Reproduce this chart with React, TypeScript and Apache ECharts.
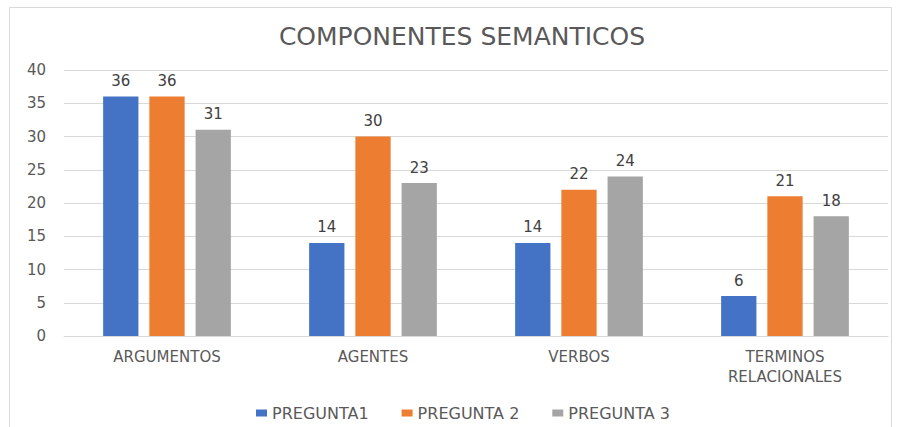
import React, { useEffect, useRef } from "react";
import * as echarts from "echarts";

const categories = ["ARGUMENTOS", "AGENTES", "VERBOS", "TERMINOS\nRELACIONALES"];
const pregunta1 = [36, 14, 14, 6];
const pregunta2 = [36, 30, 22, 21];
const pregunta3 = [31, 23, 24, 18];
const seriesNames = ["PREGUNTA1", "PREGUNTA 2", "PREGUNTA 3"];
const colors = ["#4472C4", "#ED7D31", "#A5A5A5"];

const FONT = "'DejaVu Sans', 'Open Sans', sans-serif";

export default function App() {
  const ref = useRef<HTMLDivElement>(null);
  useEffect(() => {
    if (!ref.current) return;
    const chart = echarts.init(ref.current, undefined, { renderer: "svg" });
    const data = [pregunta1, pregunta2, pregunta3];
    chart.setOption({
      animation: false,
      backgroundColor: "#ffffff",
      title: {
        text: "COMPONENTES SEMANTICOS",
        left: 457,
        textAlign: "center",
        top: 19,
        textStyle: { fontFamily: FONT, fontSize: 25, fontWeight: "normal", color: "#595959" },
      },
      graphic: [
        {
          type: "rect",
          shape: { x: 9.5, y: 7.5, width: 882, height: 440 },
          style: { fill: "none", stroke: "#d9d9d9", lineWidth: 1 },
          silent: true,
          z: -1,
        },
      ],
      legend: {
        top: 400,
        left: 251,
        itemWidth: 11,
        itemHeight: 7,
        itemGap: 33,
        icon: "rect",
        textStyle: { fontFamily: FONT, fontSize: 16, color: "#595959" },
        data: seriesNames,
      },
      grid: { left: 64, right: 12, top: 70, bottom: 91, containLabel: false },
      xAxis: {
        type: "category",
        data: categories,
        axisLine: { lineStyle: { color: "#d9d9d9" } },
        axisTick: { show: false },
        axisLabel: { fontFamily: FONT, fontSize: 15, color: "#595959", margin: 11, lineHeight: 20 },
      },
      yAxis: {
        type: "value",
        min: 0,
        max: 40,
        interval: 5,
        axisLine: { show: false },
        axisTick: { show: false },
        splitLine: { lineStyle: { color: "#d9d9d9" } },
        axisLabel: { fontFamily: FONT, fontSize: 15, color: "#595959", margin: 18, align: "right" },
      },
      series: seriesNames.map((name, i) => ({
        name,
        type: "bar",
        data: data[i],
        itemStyle: { color: colors[i] },
        barGap: "31%",
        barCategoryGap: "38%",
        label: {
          show: true,
          position: "top",
          distance: 8,
          fontFamily: FONT,
          fontSize: 15,
          color: "#404040",
        },
      })),
    });
    return () => chart.dispose();
  }, []);
  return (
    <div
      ref={ref}
      style={{ position: "absolute", left: 0, top: 0, width: 900, height: 427 }}
    />
  );
}
